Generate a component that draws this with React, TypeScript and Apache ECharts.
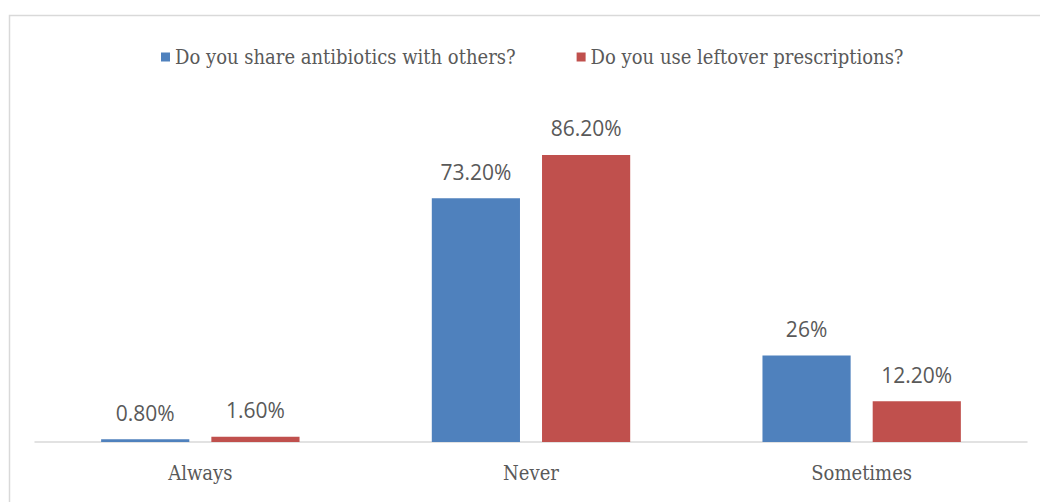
import React, { useEffect, useRef } from "react";
import * as echarts from "echarts";

const categories = ["Always", "Never", "Sometimes"];
const seriesNames = ["Do you share antibiotics with others?", "Do you use leftover prescriptions?"];
const shareValues = [0.8, 73.2, 26];
const leftoverValues = [1.6, 86.2, 12.2];
const shareLabels = ["0.80%", "73.20%", "26%"];
const leftoverLabels = ["1.60%", "86.20%", "12.20%"];
const colors = ["#4f81bd", "#c0504d"];

const serifFont = "'DejaVu Serif Condensed', 'DejaVu Serif', serif";
const labelFont = "'Open Sans', 'Roboto', sans-serif";

export default function App() {
  const ref = useRef<HTMLDivElement>(null);
  useEffect(() => {
    if (!ref.current) return;
    const chart = echarts.init(ref.current, null, { renderer: "svg" });
    const mkLabel = (labels: string[]) => ({
      show: true,
      position: "top",
      distance: 16,
      color: "#595959",
      fontSize: 21,
      fontFamily: labelFont,
      formatter: (p: any) => labels[p.dataIndex],
    });
    chart.setOption({
      animation: false,
      backgroundColor: "#ffffff",
      graphic: [
        {
          type: "rect",
          shape: { x: 9.5, y: 15.5, width: 1200, height: 800 },
          style: { fill: "none", stroke: "#d9d9d9", lineWidth: 1.5 },
          silent: true,
        },
      ],
      legend: {
        top: 42,
        left: 156,
        itemWidth: 9,
        itemHeight: 9,
        itemGap: 61,
        icon: "rect",
        textStyle: { color: "#595959", fontSize: 20, fontFamily: serifFont },
        data: seriesNames,
      },
      grid: { left: 35, right: 13, top: 109, bottom: 60, containLabel: false },
      xAxis: {
        type: "category",
        data: categories,
        axisLine: { show: true, lineStyle: { color: "#d9d9d9", width: 1.5 } },
        axisTick: { show: false },
        axisLabel: { color: "#595959", fontSize: 20, fontFamily: serifFont, margin: 21 },
      },
      yAxis: {
        type: "value",
        min: 0,
        max: 100,
        show: false,
        splitLine: { show: false },
      },
      series: [
        {
          name: seriesNames[0],
          type: "bar",
          data: shareValues,
          itemStyle: { color: colors[0] },
          barGap: "25%",
          barCategoryGap: "40%",
          label: mkLabel(shareLabels),
        },
        {
          name: seriesNames[1],
          type: "bar",
          data: leftoverValues,
          itemStyle: { color: colors[1] },
          barGap: "25%",
          barCategoryGap: "40%",
          label: mkLabel(leftoverLabels),
        },
      ],
    });
    return () => chart.dispose();
  }, []);
  return (
    <div
      ref={ref}
      style={{ position: "fixed", left: 0, top: 0, width: 1040, height: 502 }}
    />
  );
}
